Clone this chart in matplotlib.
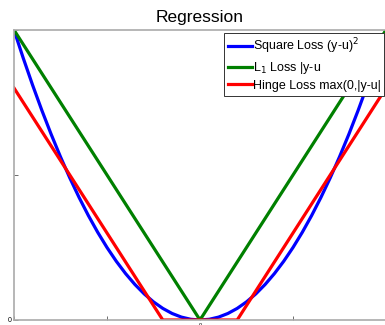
import matplotlib
matplotlib.use("Agg")
import matplotlib.pyplot as plt

# ===== DATA =====
u = [-1.0, -0.95, -0.9, -0.85, -0.8, -0.75, -0.7, -0.65, -0.6, -0.55, -0.5,
     -0.45, -0.4, -0.35, -0.3, -0.25, -0.2, -0.15, -0.1, -0.05, 0.0,
     0.05, 0.1, 0.15, 0.2, 0.25, 0.3, 0.35, 0.4, 0.45, 0.5,
     0.55, 0.6, 0.65, 0.7, 0.75, 0.8, 0.85, 0.9, 0.95, 1.0]
square_loss = [1.0, 0.9025, 0.81, 0.7225, 0.64, 0.5625, 0.49, 0.4225, 0.36, 0.3025, 0.25,
               0.2025, 0.16, 0.1225, 0.09, 0.0625, 0.04, 0.0225, 0.01, 0.0025, 0.0,
               0.0025, 0.01, 0.0225, 0.04, 0.0625, 0.09, 0.1225, 0.16, 0.2025, 0.25,
               0.3025, 0.36, 0.4225, 0.49, 0.5625, 0.64, 0.7225, 0.81, 0.9025, 1.0]
l1_x = [-1.0, 0.0, 1.0]
l1_loss = [1.0, 0.0, 1.0]
hinge_x = [-1.0, -0.2, 0.2, 1.0]
hinge_loss = [0.8, 0.0, 0.0, 0.8]

labels = ["Square Loss (y-u)$^2$", "L$_1$ Loss |y-u", "Hinge Loss max(0,|y-u|"]
xticks = [-1.0, -0.5, 0.0, 0.5, 1.0]
yticks = [0.0, 0.5, 1.0]

plt.rcParams['font.family'] = ['Liberation Sans', 'DejaVu Sans']

fig = plt.figure(figsize=(3.85, 3.25), dpi=100)
ax = fig.add_axes([14 / 385, 5 / 325, 372 / 385, 290 / 325])

ax.plot(u, square_loss, color='#0000ff', linewidth=2.3, label=labels[0])
ax.plot(l1_x, l1_loss, color='#008000', linewidth=2.3, label=labels[1])
ax.plot(hinge_x, hinge_loss, color='#ff0000', linewidth=2.3, label=labels[2])

ax.set_xlim(-1, 1)
ax.set_ylim(0, 1)
ax.set_xticks(xticks)
ax.set_yticks(yticks)
ax.set_xticklabels(['', '', '0', '', ''], fontsize=4)
ax.set_yticklabels(['0', '', ''], fontsize=5)
ax.tick_params(direction='in', length=3, width=0.6, color='#555555', pad=2)
for s in ax.spines.values():
    s.set_color('#aaaaaa')
    s.set_linewidth(1.2)

ax.set_title('Regression', fontsize=12.5, pad=5.5)

leg = ax.legend(loc='upper left', bbox_to_anchor=((224 - 14) / 372, 1 - 3 / 290),
                borderaxespad=0, fancybox=False, edgecolor='#333333',
                fontsize=9, handlelength=1.9, handletextpad=0.1,
                labelspacing=0.3, borderpad=0.3, framealpha=1)
leg.get_frame().set_linewidth(0.7)

fig.savefig('out.png', dpi=100)
